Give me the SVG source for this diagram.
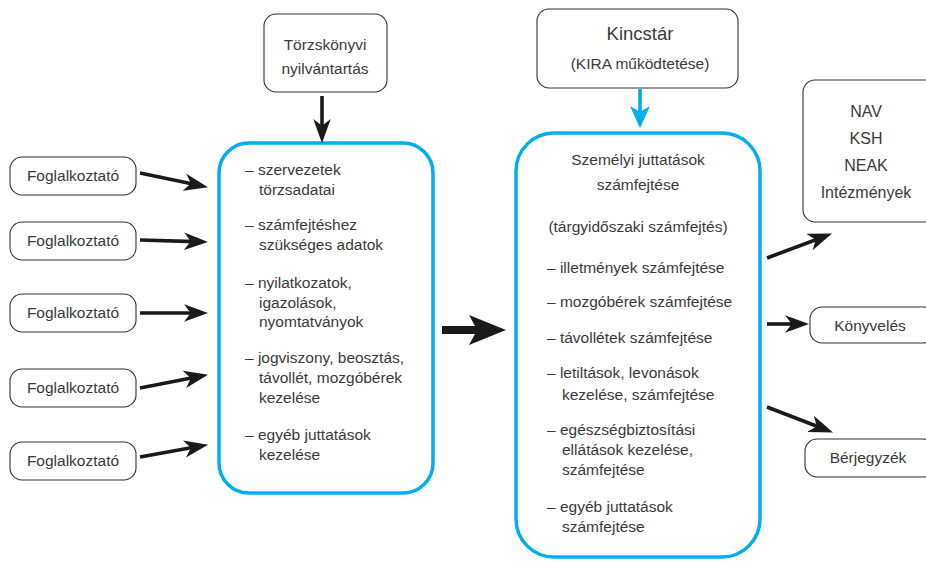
<svg xmlns="http://www.w3.org/2000/svg" width="926" height="561" viewBox="0 0 926 561">
  <style>
    .box { fill: #ffffff; stroke: #333333; stroke-width: 1.1; }
    .panel { fill: #ffffff; stroke: #00aeef; stroke-width: 3.5; }
    .t { font-family: "Liberation Sans", Arial, sans-serif; font-size: 15.5px; fill: #3a3a3a; }
    .c { text-anchor: middle; }
    .big { font-size: 18.5px; }
    .mid { font-size: 16px; }
    .link { stroke: #1a1a1a; stroke-width: 3.6; fill: none; marker-end: url(#head); }
    .blue { stroke: #00aeef; stroke-width: 3.6; fill: none; marker-end: url(#headBlue); }
  </style>
  <defs>
    <marker id="head" markerUnits="userSpaceOnUse" markerWidth="24" markerHeight="18" refX="10" refY="8" orient="auto" viewBox="0 0 22 16">
      <path d="M0,0 L22,8 L0,16 L6,8 z" fill="#1a1a1a"/>
    </marker>
    <marker id="headBlue" markerUnits="userSpaceOnUse" markerWidth="22" markerHeight="20" refX="8" refY="9" orient="auto" viewBox="0 0 20 18">
      <path d="M0,0 L20,9 L0,18 L5,9 z" fill="#00aeef"/>
    </marker>
  </defs>

  <!-- source registers -->
  <g id="torzskonyv">
    <rect class="box" x="264" y="14" width="123" height="78" rx="12"/>
    <text class="t c" x="325" y="50">Törzskönyvi</text>
    <text class="t c" x="325" y="74">nyilvántartás</text>
  </g>
  <g id="kincstar">
    <rect class="box" x="537" y="9" width="201" height="79" rx="12"/>
    <text class="t c big" x="640" y="40">Kincstár</text>
    <text class="t c" x="640" y="69">(KIRA működtetése)</text>
  </g>

  <!-- employers -->
  <g id="employer1">
    <rect class="box" x="10" y="157" width="126" height="38" rx="12"/>
    <text class="t c" x="73" y="181">Foglalkoztató</text>
  </g>
  <g id="employer2">
    <rect class="box" x="10" y="222" width="126" height="38" rx="12"/>
    <text class="t c" x="73" y="246">Foglalkoztató</text>
  </g>
  <g id="employer3">
    <rect class="box" x="10" y="294" width="126" height="38" rx="12"/>
    <text class="t c" x="73" y="318">Foglalkoztató</text>
  </g>
  <g id="employer4">
    <rect class="box" x="10" y="369" width="126" height="38" rx="12"/>
    <text class="t c" x="73" y="393">Foglalkoztató</text>
  </g>
  <g id="employer5">
    <rect class="box" x="10" y="442" width="126" height="38" rx="12"/>
    <text class="t c" x="73" y="466">Foglalkoztató</text>
  </g>

  <!-- data collected by the employers -->
  <g id="input-data">
    <rect class="panel" x="219" y="143" width="214" height="350" rx="30"/>
    <text class="t" x="245" y="175">– szervezetek</text>
    <text class="t" x="259" y="195">törzsadatai</text>
    <text class="t" x="245" y="230">– számfejtéshez</text>
    <text class="t" x="259" y="250">szükséges adatok</text>
    <text class="t" x="245" y="288">– nyilatkozatok,</text>
    <text class="t" x="259" y="308">igazolások,</text>
    <text class="t" x="259" y="327">nyomtatványok</text>
    <text class="t" x="245" y="363">– jogviszony, beosztás,</text>
    <text class="t" x="259" y="383">távollét, mozgóbérek</text>
    <text class="t" x="259" y="403">kezelése</text>
    <text class="t" x="245" y="440">– egyéb juttatások</text>
    <text class="t" x="259" y="460">kezelése</text>
  </g>

  <!-- payroll processing -->
  <g id="payroll">
    <rect class="panel" x="516" y="133" width="244" height="424" rx="38"/>
    <text class="t c" x="638" y="165">Személyi juttatások</text>
    <text class="t c" x="638" y="190">számfejtése</text>
    <text class="t c" x="638" y="232">(tárgyidőszaki számfejtés)</text>
    <text class="t" x="547" y="273">– illetmények számfejtése</text>
    <text class="t" x="547" y="307">– mozgóbérek számfejtése</text>
    <text class="t" x="547" y="343">– távollétek számfejtése</text>
    <text class="t" x="547" y="378">– letiltások, levonások</text>
    <text class="t" x="562" y="400">kezelése, számfejtése</text>
    <text class="t" x="547" y="435">– egészségbiztosítási</text>
    <text class="t" x="562" y="455">ellátások kezelése,</text>
    <text class="t" x="562" y="475">számfejtése</text>
    <text class="t" x="547" y="512">– egyéb juttatások</text>
    <text class="t" x="562" y="532">számfejtése</text>
  </g>

  <!-- recipients -->
  <g id="authorities">
    <rect class="box" x="803" y="80" width="135" height="142" rx="12"/>
    <text class="t c mid" x="866" y="117">NAV</text>
    <text class="t c mid" x="866" y="144">KSH</text>
    <text class="t c mid" x="866" y="171">NEAK</text>
    <text class="t c mid" x="866" y="198">Intézmények</text>
  </g>
  <g id="konyveles">
    <rect class="box" x="810" y="307" width="125" height="36" rx="12"/>
    <text class="t c" x="870" y="331">Könyvelés</text>
  </g>
  <g id="berjegyzek">
    <rect class="box" x="805" y="439" width="130" height="38" rx="12"/>
    <text class="t c" x="868" y="463">Bérjegyzék</text>
  </g>

  <!-- connectors -->
  <g id="connectors">
    <line class="link" x1="140" y1="173" x2="195.2" y2="184.5"/>
    <line class="link" x1="140" y1="240" x2="195" y2="241.6"/>
    <line class="link" x1="140" y1="313" x2="195" y2="313"/>
    <line class="link" x1="140" y1="388" x2="195.2" y2="377.3"/>
    <line class="link" x1="140" y1="457" x2="195.2" y2="447.1"/>
    <line class="link" x1="322" y1="96" x2="322" y2="130"/>
    <line class="blue" x1="640" y1="89" x2="640" y2="115"/>
    <polygon points="442,326 475,326 469,315 506,330 469,345 475,334 442,334" fill="#1a1a1a"/>
    <line class="link" x1="767" y1="258" x2="819.8" y2="238.2"/>
    <line class="link" x1="767" y1="324" x2="796" y2="324"/>
    <line class="link" x1="767" y1="407" x2="820.8" y2="427.7"/>
  </g>
</svg>
